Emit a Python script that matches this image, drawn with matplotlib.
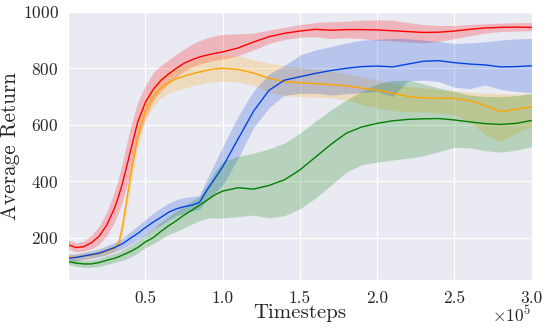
import matplotlib
matplotlib.use("Agg")
import matplotlib.pyplot as plt
import seaborn as sns
import numpy as np

sns.set_style("darkgrid")
plt.rcParams["font.family"] = "serif"
plt.rcParams["font.serif"] = ["cmr10"]
plt.rcParams["mathtext.fontset"] = "cm"
plt.rcParams["axes.formatter.use_mathtext"] = True
plt.rcParams["axes.unicode_minus"] = False

# timesteps (in units of 1e5)
steps = [0, .05, .1, .15, .2, .25, .3, .325, .35, .4, .45, .5, .55, .6, .65, .7, .75, .8, .85, .9, .95,
         1.0, 1.1, 1.2, 1.3, 1.4, 1.5, 1.6, 1.7, 1.8, 1.9, 2.0, 2.1, 2.2, 2.3, 2.4, 2.5, 2.6, 2.7, 2.8, 2.9, 3.0]

red_mean = [175, 165, 168, 182, 205, 245, 305, 345, 390, 500, 610, 680, 725, 757, 780, 800, 818, 830, 840, 847, 853,
            858, 872, 893, 912, 924, 932, 938, 935, 937, 937, 936, 933, 930, 927, 928, 932, 938, 943, 945, 946, 945]
red_low = [160, 150, 152, 160, 177, 208, 255, 290, 325, 425, 545, 625, 685, 720, 745, 770, 790, 805, 815, 822, 828,
           832, 845, 865, 888, 902, 910, 912, 905, 908, 905, 900, 897, 893, 890, 895, 905, 915, 925, 930, 932, 933]
red_high = [192, 182, 188, 208, 242, 290, 365, 410, 465, 585, 680, 740, 785, 810, 830, 850, 868, 885, 898, 908, 915,
            920, 922, 925, 935, 945, 955, 962, 965, 967, 970, 972, 970, 962, 955, 952, 952, 955, 958, 960, 962, 962]

orange_mean = [132, 130, 135, 138, 145, 152, 162, 175, 235, 405, 560, 650, 700, 730, 750, 763, 772, 780, 787, 793, 798,
               800, 796, 783, 765, 753, 749, 746, 742, 738, 730, 723, 712, 700, 695, 694, 694, 685, 668, 646, 655, 664]
orange_low = [120, 118, 123, 126, 133, 140, 150, 160, 205, 365, 520, 615, 665, 695, 712, 722, 730, 737, 743, 748, 752,
              755, 752, 740, 715, 703, 700, 698, 695, 688, 672, 659, 650, 646, 645, 642, 635, 610, 565, 540, 570, 593]
orange_high = [145, 142, 147, 150, 157, 165, 175, 195, 270, 445, 600, 690, 740, 770, 790, 805, 815, 825, 835, 842, 847,
               848, 845, 830, 818, 810, 803, 797, 790, 782, 770, 759, 745, 735, 730, 725, 720, 715, 712, 710, 708, 709]

blue_mean = [127, 130, 135, 140, 145, 155, 165, 172, 178, 197, 215, 236, 255, 272, 290, 302, 310, 315, 325, 370, 410,
             451, 550, 648, 722, 758, 770, 782, 792, 800, 806, 808, 805, 815, 825, 827, 820, 815, 812, 805, 806, 809]
blue_low = [115, 118, 122, 127, 132, 140, 150, 155, 160, 175, 192, 210, 228, 245, 262, 278, 287, 295, 300, 335, 360,
            386, 482, 590, 660, 705, 711, 712, 705, 710, 714, 717, 700, 755, 758, 753, 733, 728, 741, 725, 718, 714]
blue_high = [140, 142, 148, 155, 160, 172, 183, 190, 198, 220, 242, 265, 287, 305, 322, 335, 342, 345, 350, 410, 465,
             522, 630, 720, 780, 810, 847, 865, 877, 890, 900, 903, 906, 905, 900, 895, 888, 890, 894, 900, 904, 906]

green_mean = [115, 110, 107, 107, 112, 120, 127, 132, 138, 150, 165, 185, 200, 222, 242, 260, 280, 297, 315, 333, 352,
              365, 377, 372, 385, 405, 440, 485, 530, 570, 592, 605, 614, 619, 621, 622, 617, 610, 604, 601, 605, 615]
green_low = [105, 98, 95, 95, 98, 105, 112, 116, 120, 130, 145, 165, 178, 195, 212, 222, 235, 248, 260, 270, 270,
             269, 275, 280, 270, 278, 302, 340, 385, 432, 458, 468, 475, 481, 490, 505, 520, 518, 508, 503, 510, 522]
green_high = [125, 122, 120, 121, 127, 137, 145, 150, 157, 172, 190, 212, 230, 255, 275, 295, 312, 330, 345, 390, 435,
              470, 488, 499, 515, 535, 570, 612, 652, 688, 718, 745, 757, 758, 745, 730, 718, 705, 700, 700, 703, 712]

series = [
    (red_mean, red_low, red_high, "#ff0000"),
    (orange_mean, orange_low, orange_high, "#ffa500"),
    (blue_mean, blue_low, blue_high, "#0343df"),
    (green_mean, green_low, green_high, "#008000"),
]

fig = plt.figure(figsize=(5.48, 3.28), dpi=100)
ax = fig.add_axes([0.1245, 0.1463, 0.8455, 0.8176])
x = np.array(steps) * 1e5
for m, lo, hi, c in series:
    ax.fill_between(x, lo, hi, color=c, alpha=0.22, linewidth=0)
for m, lo, hi, c in series:
    ax.plot(x, m, color=c, linewidth=1.0)

ax.set_xlim(0, 3e5)
ax.set_ylim(50, 1000)
ax.set_xticks([0.5e5, 1e5, 1.5e5, 2e5, 2.5e5, 3e5])
ax.set_xticklabels(["0.5", "1.0", "1.5", "2.0", "2.5", "3.0"])
ax.set_yticks([200, 400, 600, 800, 1000])
ax.tick_params(labelsize=12.5)
ax.tick_params(axis="x", pad=4)
ax.text(1.0, -0.155, r"$\times10^{5}$", transform=ax.transAxes, ha="right",
        va="baseline", fontsize=12.5)
ax.set_xlabel("Timesteps", fontsize=15, labelpad=-1)
ax.set_ylabel("Average Return", fontsize=15.3, labelpad=2)

fig.savefig("out.png", dpi=100)
